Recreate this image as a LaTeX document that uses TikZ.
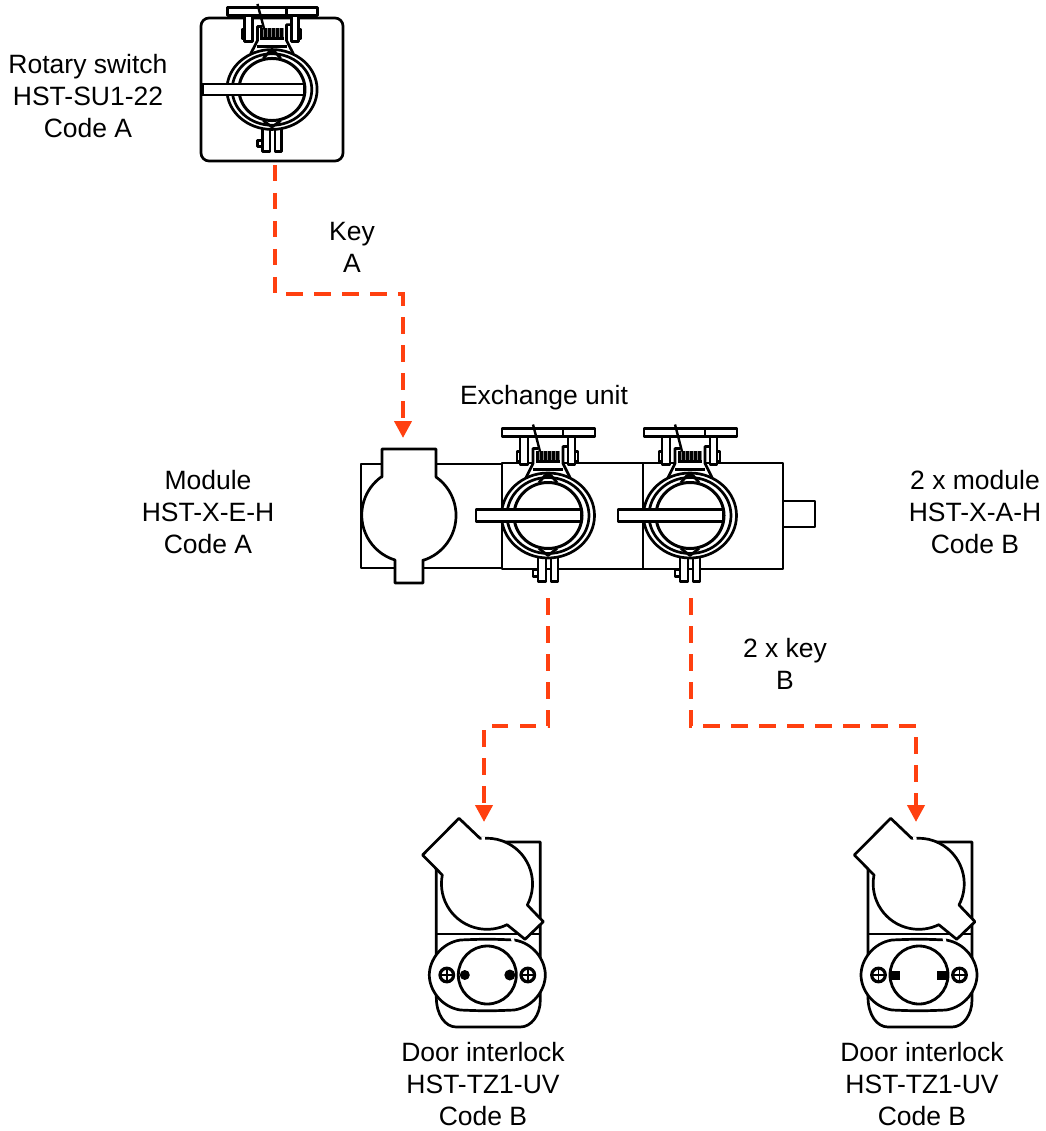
\documentclass[tikz,border=0pt]{standalone}
\usepackage{fontspec}
\setmainfont{Liberation Sans}
\usetikzlibrary{arrows.meta}
\definecolor{keyred}{RGB}{255,64,16}
\tikzset{
  every node/.style={font=\fontsize{26.5}{32}\selectfont,align=center,inner sep=0pt},
  part/.style={draw=black,line width=2.7pt,fill=white,line join=round},
  ln/.style={draw=black,line width=2.7pt,line join=round},
  keyline/.style={draw=keyred,line width=4pt,dash pattern=on 16.5pt off 11.5pt,-{Triangle[length=17pt,width=17pt,sep=0pt]}},
  lockhead/.pic={
    \path[part] (-46,-87) rectangle (47,-79);
    \draw[ln] (15,-87) -- (15,-79);
    \path[part] (-31,-64) rectangle (-28,-54);
    \path[part] (27,-64) rectangle (30,-54);
    \path[part] (-28,-79) rectangle (-20,-51);
    \path[part] (20,-79) rectangle (27,-51);
    \path[part] (-15,54) rectangle (-10,61);
    \path[part] (-10,38) rectangle (-2,66);
    \path[part] (3,38) rectangle (10,66);
    \path[fill=white] (-22,-38) -- (-15,-52) -- (-15,-67) -- (15,-69) -- (15,-52) -- (22,-38) -- cycle;
    \draw[ln] (-22,-38) -- (-15,-52) -- (-15,-67) -- (-10,-67);
    \draw[ln] (22,-38) -- (15,-52) -- (15,-69) -- (20,-69);
    \draw[ln] (-15,-46) -- (15,-46);
    \draw[ln] (-12,-54) -- (12,-54);
    \path[fill=black] (-12,-65) rectangle (12,-55);
    \foreach \cx in {-9,-5,...,11}{\draw[gray,line width=.3pt] (\cx,-65) -- (\cx,-56);}
    \path[part] (0,0) ellipse [x radius=46.5,y radius=42.5];
    \path[ln] (0,0) ellipse [x radius=41,y radius=38];
    \path[draw=black,line width=3pt] (0,0) ellipse [x radius=34,y radius=33];
    \draw[ln] (-9,-33) -- (-3,-40) -- (3,-40) -- (9,-33);
    \draw[ln] (-9,33) -- (0,40) -- (9,33);
    \draw[draw=black,line width=2.4pt] (-15,-91) -- (-8,-64);
    \path[part] (-72,-6) rectangle (33,6);
  },
  lockbody/.pic={
    \path[part] (-51,22) .. controls (-51,40) and (-42,52) .. (-31,52) -- (33,52)
      .. controls (44,52) and (53,40) .. (53,25) -- (53,-133) -- (-51,-133) -- cycle;
    \draw[ln] (-51,-41) -- (53,-41);
    \path[part] (-27,-35) .. controls (-5,-36) and (5,-36) .. (27,-35)
      .. controls (46,-32) and (58,-15) .. (58,0)
      .. controls (58,15) and (46,32) .. (27,35)
      .. controls (5,36) and (-5,36) .. (-27,35)
      .. controls (-46,32) and (-58,15) .. (-58,0)
      .. controls (-58,-15) and (-46,-32) .. (-27,-35) -- cycle;
    \path[draw=black,line width=2.8pt] (0,0) circle [radius=29];
    \foreach \sx in {-40.5,40.5}{
      \path[draw=black,fill=white,line width=3.2pt] (\sx,0) circle [radius=6.8];
      \draw[black,line width=1.6pt] (\sx-7,0) -- (\sx+7,0) (\sx,-7) -- (\sx,7);
    }
    \path[part] (-7.3,-136.7) -- (-28.3,-156.7) -- (-64.7,-120) -- (-45,-100)
      arc [start angle=191,end angle=64,radius=45.6]
      -- (37.7,-35.7) -- (56,-53.3) -- (40,-70)
      arc [start angle=27.7,end angle=-91.6,radius=45.6] -- cycle;
    \path[draw=white,line width=3.4pt] (-5.8,-136.7) -- (-2.5,-136.9);
    \path[draw=white,line width=3pt] (25,-37) -- (26,-33);
  },
  rounddots/.pic={
    \path[fill=black] (-22.5,0) circle [radius=5];
    \path[fill=black] (22.5,0) circle [radius=5.5];
  },
  squaredots/.pic={
    \path[fill=black] (-28,-4.5) rectangle (-19,4.5);
    \path[fill=black] (18,-4.5) rectangle (28,4.5);
  }
}
\begin{document}
\begin{tikzpicture}[x=1pt,y=-1pt]
\useasboundingbox (0,0) rectangle (1045,1131);
% rotary switch
\path[part,rounded corners=8pt] (201,18) rectangle (343,161);
\path (272,89.5) pic[xscale=.97,yscale=.94] {lockhead};
% module bodies
\path[part] (783,501) rectangle (815,527);
\path[part] (361,464) rectangle (502,568);
\path[part] (502,463) rectangle (643,569);
\path[part] (643,463) rectangle (783,569);
\path[part] (382,477) -- (382,449) -- (436,449) -- (436,477)
  arc [start angle=-55,end angle=73,radius=47] -- (423,560) -- (423,583) -- (395,583) -- (395,560)
  arc [start angle=107,end angle=235,radius=47] -- cycle;
\path (548,515.5) pic {lockhead};
\path (690,515.5) pic {lockhead};
% door interlocks
\path (487.3,975) pic {lockbody};
\path (487.3,975) pic {rounddots};
\path (919,975) pic {lockbody};
\path (919,975) pic {squaredots};
% connector ends
\coordinate (rotaryOut) at (275,165);
\coordinate (keyAbend) at (275,294);
\coordinate (keyAin) at (403,438);
\coordinate (exchOutL) at (548,598);
\coordinate (exchOutR) at (691,598);
\coordinate (doorL) at (484,822);
\coordinate (doorR) at (916,822);
\draw[keyline] (rotaryOut) -- (keyAbend) -| (keyAin);
\draw[keyline] (exchOutL) |- (516,726) -| (doorL);
\draw[keyline] (exchOutR) |- (800,726) -| (doorR);
% labels
\node (t1) at (88,96) {Rotary switch\\HST-SU1-22\\Code A};
\node (t2) at (352,247) {Key\\A};
\node (t3) at (544,398) {Exchange unit};
\node (t4) at (208,512) {Module\\HST-X-E-H\\Code A};
\node (t5) at (975,512) {2 x module\\HST-X-A-H\\Code B};
\node (t6) at (785,664) {2 x key\\B};
\node (t7) at (483,1084) {Door interlock\\HST-TZ1-UV\\Code B};
\node (t8) at (922,1084) {Door interlock\\HST-TZ1-UV\\Code B};
\end{tikzpicture}
\end{document}
